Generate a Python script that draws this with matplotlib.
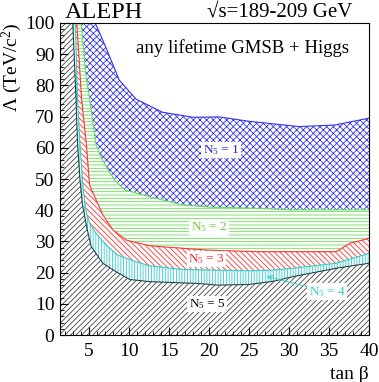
import matplotlib
matplotlib.use("Agg")
import matplotlib.pyplot as plt
from matplotlib.ticker import MultipleLocator

plt.rcParams['font.family'] = ['Liberation Serif', 'DejaVu Serif']
plt.rcParams['mathtext.fontset'] = 'custom'
plt.rcParams['mathtext.rm'] = 'Liberation Serif'
plt.rcParams['mathtext.it'] = 'Liberation Serif:italic'
plt.rcParams['hatch.linewidth'] = 0.6

# exclusion contours, Lambda (TeV/c^2) vs tan beta, one per N5
tanb_n1 = [5.8, 7.0, 8.8, 10.9, 14.2, 18.0, 21.3, 25.0, 31.3, 35.7, 40.0]
lam_n1 = [100, 93, 81.7, 75.6, 71.4, 69.8, 69.9, 68.5, 66.8, 67.3, 69.5]

tanb_n2 = [4.05, 4.6, 5.1, 5.9, 6.7, 8.2, 9.5, 12.6, 16.7, 20.0, 26.3, 30.0, 40.0]
lam_n2 = [100, 84, 75.6, 61, 56, 49.7, 46.5, 44.3, 41.7, 41.0, 40.6, 40.1, 40.1]

tanb_n3 = [3.5, 4.1, 4.7, 5.1, 6.75, 8.0, 9.7, 12.6, 16.7, 20.0, 26.3, 35.9, 37.6, 40.0]
lam_n3 = [100, 75.6, 61, 48, 38.5, 33.7, 30.4, 28.6, 27.8, 27.2, 26.7, 26.7, 29.4, 31.0]

tanb_n4 = [3.3, 3.6, 3.9, 4.3, 4.7, 5.1, 5.9, 7.2, 8.6, 10.9, 12.6, 16.7, 20.0, 25.0,
           28.0, 30.5, 35.9, 40.0]
lam_n4 = [100, 75.6, 61, 46.5, 39, 35.8, 32.6, 28.8, 25.6, 23.5, 22.2, 21.0, 20.8, 20.6,
          20.8, 21.4, 23.0, 26.2]

tanb_n5 = [3.0, 3.4, 3.6, 3.9, 4.2, 4.7, 5.3, 6.75, 8.4, 10.1, 12.6, 18.8, 21.0, 25.0,
           28.0, 30.5, 35.9, 40.0]
lam_n5 = [100, 75.6, 61, 49.7, 42, 35, 28.3, 23, 20.3, 17.8, 17.1, 16.5, 16.0, 16.2,
          17.2, 18.7, 21.4, 23.0]

regions = [
    (tanb_n1, lam_n1, '#3333ee', 'xxxxx'),
    (tanb_n2, lam_n2, '#66dd55', '-----'),
    (tanb_n3, lam_n3, '#ff3333', '\\' * 6),
    (tanb_n4, lam_n4, '#33cccc', '||||||'),
    (tanb_n5, lam_n5, '#444444', '//////'),
]

x_lo, x_hi = 1.4, 40

fig = plt.figure(figsize=(3.79, 3.82), dpi=100)
ax = fig.add_axes([0.1583, 0.123, 0.8153, 0.8168])

for xs, ys, col, hatch in regions:
    px = [x_lo, x_lo] + list(xs) + [x_hi]
    py = [0, 100] + list(ys) + [0]
    ax.fill(px, py, facecolor='white', edgecolor=col, hatch=hatch, linewidth=0)
    ax.plot(xs, ys, color=col if col != '#444444' else '#224444', lw=0.8)

# labels
box = dict(facecolor='white', edgecolor='none', pad=1.0)
fs = 9.5
ax.text(21.5, 59.3, 'N$_5$ = 1', color='#2222dd', fontsize=fs, ha='center', va='center', bbox=box)
ax.text(20.0, 34.5, 'N$_5$ = 2', color='#66cc33', fontsize=fs, ha='center', va='center', bbox=box)
ax.text(19.7, 24.4, 'N$_5$ = 3', color='#ff2222', fontsize=fs, ha='center', va='center', bbox=box)
ax.text(19.8, 9.9, 'N$_5$ = 5', color='black', fontsize=fs, ha='center', va='center', bbox=box)
ax.annotate('N$_5$ = 4', xy=(27.2, 18.8), xytext=(34.8, 13.9), color='#33cccc',
            fontsize=fs, ha='center', va='center', bbox=box,
            arrowprops=dict(arrowstyle='->', color='#33cccc', lw=0.7, shrinkA=0, shrinkB=0))

ax.text(0.935, 0.92, 'any lifetime GMSB + Higgs', transform=ax.transAxes,
        ha='right', va='center', fontsize=13.5)
fig.text(0.17, 0.952, 'ALEPH', fontsize=17.5, ha='left', va='baseline')
fig.text(0.93, 0.957, '√s=189-209 GeV', fontsize=15, ha='right', va='baseline')

ax.set_xlim(x_lo, x_hi)
ax.set_ylim(0, 100)
ax.xaxis.set_major_locator(MultipleLocator(5))
ax.xaxis.set_minor_locator(MultipleLocator(1))
ax.yaxis.set_major_locator(MultipleLocator(10))
ax.yaxis.set_minor_locator(MultipleLocator(2))
ax.tick_params(which='both', direction='in', top=False, right=False, labelsize=14)
ax.tick_params(which='major', length=6, width=0.8)
ax.tick_params(which='minor', length=3, width=0.6)
ax.tick_params(axis='x', pad=6)
ax.tick_params(axis='y', pad=4)

ax.set_xlabel('tan β', fontsize=14, loc='right')
ax.set_ylabel('Λ (TeV/c$^2$)', fontsize=14, loc='top')
ax.xaxis.set_label_coords(1.0, -0.1)
ax.yaxis.set_label_coords(-0.115, 1.0)

fig.savefig('out.png', dpi=100)
